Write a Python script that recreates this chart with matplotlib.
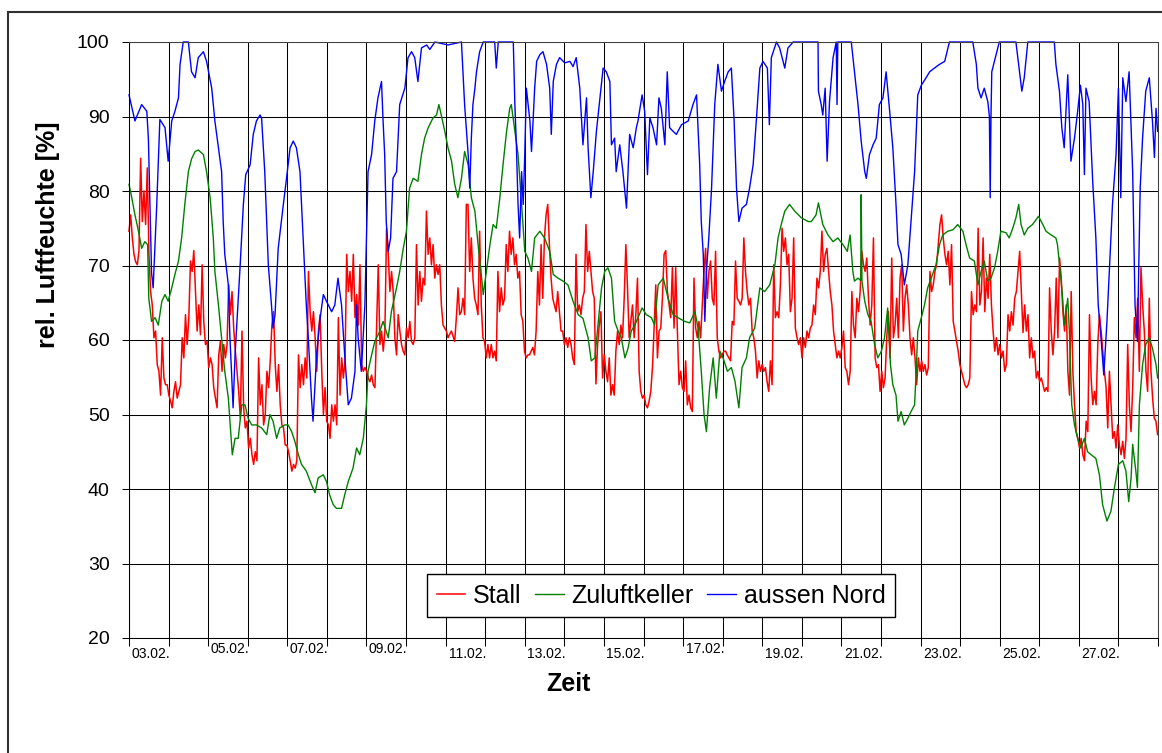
import numpy as np
import matplotlib.pyplot as plt
from matplotlib.patches import Rectangle

plt.rcParams['font.family'] = ['Liberation Sans', 'DejaVu Sans']

# Zeit in Tagen ab 03.02. 00:00
t_nord = [0.00, 0.15, 0.32, 0.45, 0.49, 0.57, 0.61, 0.70, 0.78, 0.91, 0.99, 1.08, 1.16, 1.25, 1.29, 1.37,
          1.50, 1.58, 1.67, 1.75, 1.88, 1.96, 2.09, 2.17, 2.26, 2.34, 2.38, 2.42, 2.51, 2.55, 2.59, 2.63,
          2.68, 2.80, 2.89, 2.95, 3.06, 3.14, 3.22, 3.31, 3.35, 3.43, 3.52, 3.60, 3.64, 3.69, 3.77, 3.90,
          3.98, 4.07, 4.15, 4.23, 4.32, 4.36, 4.40, 4.48, 4.53, 4.61, 4.65, 4.74, 4.82, 4.91, 4.99, 5.12,
          5.20, 5.28, 5.37, 5.45, 5.54, 5.62, 5.71, 5.75, 5.79, 5.87, 5.96, 6.00, 6.04, 6.13, 6.21, 6.29,
          6.38, 6.42, 6.46, 6.50, 6.55, 6.61, 6.67, 6.76, 6.84, 6.97, 7.05, 7.14, 7.22, 7.30, 7.39, 7.52,
          7.60, 7.73, 8.06, 8.40, 8.48, 8.57, 8.61, 8.65, 8.69, 8.74, 8.78, 8.86, 8.95, 9.24, 9.28, 9.33,
          9.71, 9.75, 9.79, 9.83, 9.87, 9.92, 9.96, 10.00, 10.04, 10.13, 10.17, 10.21, 10.25, 10.30, 10.38,
          10.46, 10.55, 10.63, 10.67, 10.72, 10.80, 10.88, 11.01, 11.14, 11.22, 11.30, 11.39, 11.47, 11.56,
          11.60, 11.67, 11.73, 11.81, 11.89, 11.98, 12.06, 12.15, 12.19, 12.27, 12.31, 12.40, 12.48, 12.57,
          12.65, 12.74, 12.82, 12.86, 12.965, 13.03, 13.10, 13.16, 13.24, 13.33, 13.39, 13.45, 13.54, 13.60,
          13.66, 13.75, 13.83, 13.96, 14.13, 14.25, 14.34, 14.42, 14.46, 14.51, 14.55, 14.59, 14.65, 14.72,
          14.80, 14.88, 14.97, 15.05, 15.14, 15.22, 15.29, 15.35, 15.41, 15.49, 15.60, 15.68, 15.77, 15.85,
          15.94, 16.02, 16.13, 16.18, 16.23, 16.36, 16.44, 16.57, 16.65, 16.78, 17.07, 17.41, 17.42, 17.49,
          17.53, 17.59, 17.64, 17.70, 17.79, 17.87, 17.89, 17.91, 18.25, 18.33, 18.42, 18.50, 18.59, 18.63,
          18.71, 18.80, 18.88, 18.96, 19.05, 19.13, 19.22, 19.30, 19.38, 19.43, 19.51, 19.59, 19.68, 19.76,
          19.85, 19.93, 20.02, 20.14, 20.23, 20.35, 20.48, 20.61, 20.73, 21.32, 21.41, 21.45, 21.53, 21.61,
          21.70, 21.74, 21.76, 21.78, 21.80, 21.91, 21.99, 22.41, 22.50, 22.56, 22.62, 22.71, 23.38, 23.42,
          23.51, 23.57, 23.63, 23.72, 23.80, 23.89, 23.97, 24.04, 24.10, 24.14, 24.18, 24.26, 24.35, 24.43,
          24.49, 24.56, 24.63, 24.71, 24.77, 24.85, 24.94, 25.00, 25.06, 25.11, 25.19, 25.27, 25.36, 25.42,
          25.48, 25.55, 25.61, 25.69, 25.78, 25.86, 25.91, 25.95, 25.99]
nord = [92.9, 89.4, 91.6, 90.7, 87.0, 69.0, 67.0, 78.0, 89.6, 88.5, 84.0, 89.4, 90.7, 92.5, 97.0, 100,
        100, 96.0, 95.2, 97.9, 98.7, 97.4, 93.8, 89.4, 85.8, 82.6, 75.9, 71.5, 67.4, 60.3, 55.8, 50.9,
        58.0, 69.2, 78.2, 82.2, 83.5, 87.6, 89.4, 90.2, 89.8, 82.6, 70.1, 64.7, 61.6, 63.4, 72.3, 78.2,
        81.7, 85.8, 86.7, 85.8, 82.6, 78.2, 73.7, 64.7, 60.3, 52.2, 49.1, 58.0, 62.5, 66.1, 65.2, 63.8,
        64.7, 68.3, 64.7, 58.0, 51.3, 52.2, 55.8, 64.7, 60.3, 55.8, 64.7, 73.7, 82.6, 84.9, 89.4, 92.5,
        94.7, 89.4, 84.9, 75.9, 71.9, 73.7, 81.7, 82.6, 91.6, 93.8, 97.9, 98.7, 97.9, 94.7, 99.2, 99.6,
        99.0, 100, 99.6, 100, 91.6, 84.9, 80.4, 87.1, 91.6, 93.8, 96.0, 98.7, 100, 100, 96.5, 100,
        100, 91.6, 85.8, 78.2, 73.7, 82.6, 78.2, 84.9, 93.8, 89.4, 85.3, 89.4, 93.8, 97.4, 98.3,
        98.7, 97.0, 93.8, 87.6, 94.7, 97.0, 97.9, 97.2, 97.4, 96.7, 97.9, 93.8, 86.2, 92.5,
        85.8, 79.1, 82.6, 88.0, 92.0, 96.5, 96.0, 94.7, 86.2, 87.1, 82.6, 86.2, 82.6, 77.7,
        87.6, 85.8, 88.5, 89.4, 92.9, 90.7, 82.2, 89.8, 88.5, 86.2, 92.5, 91.1, 86.2, 96.0,
        88.5, 88.0, 87.6, 88.9, 89.4, 91.6, 92.9, 83.5, 75.9, 71.5, 62.5, 69.2, 73.7, 80.4,
        91.6, 97.0, 93.4, 94.7, 96.0, 96.5, 89.4, 80.4, 75.9, 77.7, 78.2, 80.4, 83.5, 89.4,
        96.5, 97.4, 96.5, 88.9, 97.9, 100, 99.2, 96.5, 99.2, 100, 100, 100, 93.4, 91.6,
        90.2, 93.8, 84.0, 92.0, 97.9, 100, 91.6, 100, 100, 96.0, 91.6, 86.7, 82.6, 81.7,
        84.9, 86.2, 87.1, 91.6, 92.5, 96.0, 90.7, 85.8, 78.2, 72.8, 71.5, 67.4, 70.1, 75.9,
        82.6, 92.9, 94.2, 95.2, 96.0, 96.5, 97.0, 97.4, 100, 100, 97.0, 93.8, 92.5, 93.8,
        92.0, 90.0, 79.1, 90.0, 96.0, 98.3, 100, 100, 96.0, 93.4, 95.2, 100, 100, 97.0,
        93.4, 88.5, 85.8, 95.6, 84.0, 87.1, 90.7, 94.2, 91.6, 82.2, 93.8, 92.0, 81.3, 73.7,
        64.7, 60.3, 55.3, 62.5, 69.2, 78.2, 84.9, 93.8, 79.1, 95.2, 92.0, 96.0, 82.6, 64.7,
        59.8, 80.4, 87.1, 93.4, 95.2, 89.4, 84.5, 91.1, 88.0]

t_zuluft = [0.00, 0.07, 0.15, 0.24, 0.32, 0.40, 0.47, 0.50, 0.57, 0.66, 0.74, 0.83, 0.91, 0.99, 1.08, 1.16,
            1.25, 1.33, 1.41, 1.50, 1.58, 1.67, 1.75, 1.88, 1.96, 2.05, 2.13, 2.17, 2.26, 2.34, 2.42, 2.51,
            2.55, 2.61, 2.68, 2.76, 2.85, 2.93, 3.01, 3.10, 3.22, 3.35, 3.48, 3.56, 3.64, 3.73, 3.81, 3.94,
            4.02, 4.11, 4.19, 4.28, 4.36, 4.48, 4.61, 4.70, 4.78, 4.91, 4.99, 5.07, 5.16, 5.24, 5.37, 5.45,
            5.54, 5.66, 5.75, 5.83, 5.92, 5.96, 6.00, 6.04, 6.13, 6.21, 6.34, 6.42, 6.55, 6.63, 6.76, 6.84,
            6.93, 7.01, 7.09, 7.18, 7.30, 7.39, 7.47, 7.56, 7.68, 7.77, 7.83, 7.89, 7.98, 8.06, 8.15, 8.23,
            8.31, 8.40, 8.48, 8.57, 8.65, 8.74, 8.82, 8.91, 8.95, 9.03, 9.12, 9.20, 9.28, 9.37, 9.45, 9.54,
            9.62, 9.66, 9.75, 9.83, 9.92, 10.00, 10.08, 10.17, 10.25, 10.38, 10.50, 10.63, 10.72, 10.84,
            10.97, 11.09, 11.22, 11.35, 11.47, 11.60, 11.68, 11.77, 11.85, 11.94, 12.02, 12.10, 12.19, 12.27,
            12.36, 12.44, 12.53, 12.61, 12.69, 12.78, 12.86, 12.965, 13.07, 13.20, 13.28, 13.37, 13.50, 13.62,
            13.75, 13.87, 14.04, 14.17, 14.30, 14.38, 14.46, 14.53, 14.59, 14.67, 14.76, 14.84, 14.93, 15.01,
            15.12, 15.22, 15.31, 15.41, 15.49, 15.60, 15.68, 15.81, 15.94, 16.06, 16.19, 16.32, 16.40, 16.48,
            16.57, 16.69, 16.82, 16.99, 17.16, 17.24, 17.36, 17.42, 17.53, 17.66, 17.79, 17.91, 18.04, 18.15,
            18.22, 18.29, 18.33, 18.42, 18.49, 18.50, 18.52, 18.59, 18.67, 18.75, 18.84, 18.92, 19.01, 19.09,
            19.17, 19.24, 19.30, 19.38, 19.43, 19.51, 19.59, 19.68, 19.76, 19.85, 19.89, 19.93, 20.02, 20.10,
            20.18, 20.27, 20.39, 20.48, 20.56, 20.69, 20.82, 20.94, 21.07, 21.15, 21.24, 21.36, 21.45, 21.53,
            21.61, 21.70, 21.78, 21.87, 21.95, 22.03, 22.16, 22.24, 22.33, 22.41, 22.48, 22.54, 22.62, 22.71,
            22.83, 22.98, 23.09, 23.17, 23.30, 23.42, 23.46, 23.53, 23.59, 23.63, 23.72, 23.76, 23.82, 23.89,
            23.97, 24.05, 24.14, 24.22, 24.31, 24.43, 24.52, 24.60, 24.71, 24.81, 24.90, 25.00, 25.11, 25.19,
            25.26, 25.32, 25.36, 25.44, 25.48, 25.53, 25.61, 25.69, 25.78, 25.86, 25.95, 25.99]
zuluft = [80.9, 79.1, 76.8, 74.6, 72.3, 73.2, 72.8, 65.6, 62.5, 63.0, 62.0, 65.2, 66.1, 65.2, 67.0, 68.8,
          70.6, 73.7, 78.2, 82.6, 84.3, 85.3, 85.5, 84.9, 82.6, 79.1, 73.7, 69.2, 64.7, 60.3, 55.8, 52.2,
          49.1, 44.6, 46.8, 46.8, 51.3, 51.3, 49.5, 48.6, 48.6, 48.2, 47.3, 50.0, 49.1, 46.8, 48.2, 48.6,
          48.6, 47.7, 46.4, 44.6, 43.3, 42.4, 40.6, 39.5, 41.5, 41.9, 41.0, 39.2, 37.9, 37.4, 37.4, 39.2,
          41.0, 42.8, 45.5, 44.6, 46.8, 49.1, 51.3, 55.8, 58.0, 59.8, 61.2, 62.5, 60.3, 63.8, 67.0, 69.2,
          72.3, 74.6, 80.4, 81.7, 81.3, 84.9, 87.1, 88.5, 89.8, 90.2, 91.6, 90.2, 88.0, 85.8, 84.0, 80.9,
          79.1, 81.7, 85.3, 83.5, 79.1, 77.3, 72.8, 68.3, 66.1, 69.2, 72.8, 75.5, 75.0, 79.1, 83.5, 88.0,
          91.1, 91.6, 88.0, 84.9, 78.2, 71.9, 71.0, 69.2, 73.7, 74.6, 73.7, 71.9, 68.8, 68.3,
          67.9, 67.4, 65.2, 63.4, 62.9, 60.3, 57.2, 57.6, 62.0, 67.0, 69.2, 69.7, 68.3, 62.5,
          61.2, 60.3, 57.6, 58.9, 61.2, 62.0, 63.0, 64.3, 63.4, 63.0, 62.0, 67.4, 68.3, 65.6,
          63.4, 63.0, 62.5, 62.3, 63.8, 61.6, 55.8, 50.0, 47.7, 53.6, 57.6, 52.2, 58.5, 57.6,
          55.8, 56.3, 54.5, 50.9, 56.3, 57.6, 60.3, 61.6, 67.0, 66.5, 67.4, 70.1, 73.7, 75.5,
          77.3, 78.2, 77.3, 76.4, 75.9, 75.9, 76.8, 78.4, 75.5, 74.1, 73.2, 73.7, 72.8, 71.9,
          74.1, 69.2, 67.9, 68.3, 68.0, 79.5, 67.9, 65.2, 63.4, 62.5, 59.4, 57.6, 58.5, 60.3,
          64.3, 56.7, 54.0, 52.6, 49.1, 50.4, 48.6, 49.5, 50.4, 51.3, 55.8, 61.2, 63.0, 64.7,
          67.0, 68.3, 70.1, 72.8, 74.1, 74.6, 74.8, 75.5, 74.6, 72.8, 71.0, 70.6, 67.4, 69.2,
          70.6, 67.9, 68.3, 69.7, 71.9, 74.6, 74.4, 73.7, 75.0, 76.4, 78.2, 75.5, 74.1, 75.0,
          75.5, 76.6, 75.5, 74.6, 74.1, 73.7, 72.8, 69.2, 65.6, 62.0, 65.6, 61.2, 51.3, 48.6,
          46.8, 45.5, 46.8, 45.0, 44.6, 44.1, 41.9, 37.9, 35.7, 37.0, 40.2, 43.3, 43.8, 42.4,
          38.3, 41.5, 46.0, 42.4, 40.2, 51.3, 56.7, 59.4, 60.3, 58.9, 56.7, 54.9]

# Stall: etwa stuendliche Werte
stall = [74.6, 76.8, 73.7, 71.5, 70.5, 70.1, 72.0, 84.4, 75.9, 80.0, 75.5, 83.1, 71.5, 66.5, 64.7, 60.3,
         61.2, 56.7, 55.8, 52.6, 60.3, 54.9, 54.0, 54.0, 52.6, 51.8, 50.9, 53.1, 54.4, 52.2, 53.1, 54.0,
         60.3, 57.6, 63.4, 59.4, 63.0, 70.6, 69.2, 72.0, 66.5, 61.2, 64.7, 60.7, 70.1, 62.5, 59.4, 59.8,
         56.3, 57.6, 56.7, 53.6, 52.2, 50.9, 58.0, 59.8, 55.8, 59.4, 57.6, 59.4, 67.4, 63.4, 66.5, 61.6,
         58.5, 55.8, 53.1, 49.5, 61.2, 50.9, 48.2, 49.1, 45.5, 46.8, 44.6, 43.3, 45.0, 43.8, 57.6, 51.3,
         54.0, 48.6, 50.0, 55.8, 53.6, 57.2, 62.0, 63.8, 56.7, 53.1, 56.7, 51.3, 48.6, 48.2, 45.9, 45.9,
         45.0, 43.8, 42.4, 43.3, 42.8, 43.8, 58.0,
         53.6, 56.7, 54.0, 57.6, 54.9, 69.2, 63.8, 61.2, 63.8, 60.3, 55.8, 61.2, 63.4, 55.8, 50.0, 53.6,
         49.1, 48.6, 46.8, 51.3, 49.1, 51.3, 48.6, 63.0, 52.6, 57.6, 54.9, 57.2, 71.5, 66.5, 69.2, 65.2,
         71.5, 63.0, 66.1, 62.0, 70.1, 56.7, 55.8, 56.3, 55.8, 54.9, 54.4, 55.3, 54.0, 53.6, 62.0, 70.1,
         59.4, 61.2, 58.5, 61.2, 75.0, 71.5, 66.5, 69.2, 66.5, 60.3, 58.0, 63.4, 61.2, 59.4, 58.5, 58.0,
         61.6, 60.3, 62.5, 59.8, 59.4, 60.3, 72.8, 64.7, 69.2, 65.2, 68.3, 67.4, 77.3, 71.5, 73.7, 70.1,
         72.8, 68.3, 70.1, 68.8, 70.1, 64.7, 62.0, 61.6, 61.2, 60.3, 60.8, 61.2, 60.5, 59.8, 63.0, 67.0,
         63.4, 63.8, 65.6, 63.4, 78.2,
         78.2, 69.2, 73.7, 68.3, 65.6, 64.7, 63.4, 74.6, 64.7, 60.3, 59.8, 57.6, 59.4, 57.6, 59.4, 57.6,
         58.5, 57.2, 69.2, 63.8, 67.0, 64.7, 65.6, 72.8, 69.2, 74.6, 71.5, 73.7, 70.1, 71.5, 68.3, 69.2,
         63.4, 62.5, 58.5, 57.6, 58.0, 58.0, 58.5, 59.0, 58.0, 61.2, 69.2, 64.7, 72.8, 65.6, 73.7, 76.8,
         78.2, 72.8, 68.3, 65.6, 64.7, 63.8, 66.5, 63.8, 61.2, 61.2, 59.4, 60.3, 59.0, 60.3, 59.4, 57.6,
         56.7, 71.5, 63.8, 64.7, 63.4, 65.6, 66.5, 75.5, 69.2, 71.9, 69.2, 66.5, 65.6, 54.1, 59.4, 62.0,
         63.8, 54.9, 58.0, 55.8, 54.4, 57.6, 52.6, 54.0, 52.6, 58.5, 61.2, 59.4, 62.0, 60.3, 65.6, 72.8,
         67.0, 60.3, 62.5, 64.7, 60.3, 63.4, 68.3, 55.8, 53.1,
         52.2, 52.6, 51.3, 50.9, 51.8, 53.1, 56.3, 61.6, 67.4, 57.6, 61.2, 61.6, 65.6, 71.5, 72.0, 66.5,
         64.7, 63.0, 69.7, 61.6, 69.7, 61.2, 54.0, 55.8, 53.6, 53.1, 57.2, 51.3, 52.6, 50.9, 50.4, 68.3,
         61.6, 60.3, 62.5, 60.3, 64.7, 69.2, 72.3, 65.6, 69.2, 70.6, 65.6, 64.7, 71.9, 60.3, 58.5, 57.6,
         58.0, 58.5, 58.5, 58.0, 57.6, 57.2, 62.5, 62.0, 70.6, 65.6, 65.2, 64.7, 65.6, 73.7, 69.2, 66.5,
         64.7, 65.6, 61.2, 60.3, 58.5, 54.9, 57.2, 55.8, 56.7, 55.8, 56.3, 54.4, 53.1, 57.2, 54.0, 70.1,
         63.0, 63.8, 63.0, 67.4, 75.0, 71.9, 73.7, 70.1, 71.5, 63.8, 65.6, 73.7, 61.6, 60.3, 59.4, 60.3,
         57.6, 60.3, 59.0, 61.2, 60.3, 61.6,
         62.0, 64.7, 63.4, 68.3, 67.0, 69.2, 74.6, 69.2, 71.5, 72.3, 69.2, 66.5, 64.7, 61.2, 59.4, 57.6,
         58.5, 57.6, 59.0, 61.2, 56.3, 55.8, 54.0, 55.8, 66.5, 62.0, 60.3, 65.6, 63.8, 66.5, 71.9, 70.1,
         69.2, 71.0, 65.6, 62.0, 64.7, 73.7, 57.6, 56.3, 56.7, 53.1, 55.8, 53.6, 54.9, 60.3, 63.8, 57.6,
         71.0, 60.3, 62.0, 65.6, 60.3, 68.3, 70.1, 61.2, 65.6, 67.4, 64.7, 60.3, 58.0, 60.3, 57.6, 54.0,
         57.6, 55.8, 57.2, 55.8, 56.7, 55.3, 56.3, 69.2, 66.5, 67.4, 69.2, 70.1, 72.8, 75.5, 76.8, 73.7,
         71.5, 70.1, 71.9, 67.4, 72.8, 62.5, 61.2, 59.8, 58.5, 56.7, 55.8, 54.9, 54.0, 53.6, 54.0, 54.9,
         66.5, 63.4, 64.7, 63.8, 75.0, 64.7,
         66.5, 73.7, 63.8, 68.3, 65.6, 71.5, 64.7, 61.2, 58.5, 60.3, 58.0, 59.4, 57.6, 58.5, 55.8, 56.7,
         63.4, 61.2, 63.8, 62.0, 65.6, 66.5, 69.2, 71.9, 66.5, 61.0, 64.7, 61.2, 63.4, 57.6, 60.3, 57.6,
         58.5, 54.9, 55.8, 54.4, 54.9, 54.0, 53.1, 53.6, 53.1, 67.0, 61.2, 58.0, 61.2, 68.3, 60.3, 71.0,
         68.3, 63.8, 61.2, 64.7, 55.8, 52.6, 66.5, 55.8, 51.3, 47.7, 46.8, 45.5, 46.8, 44.6, 43.8, 49.1,
         47.7, 63.4, 54.9, 51.3, 53.1, 51.3, 59.4, 63.4, 61.2, 58.5, 55.8, 53.6, 48.2, 55.8, 51.3, 46.8,
         47.7, 45.5, 48.6, 45.9, 44.6, 46.4, 44.1, 46.8, 59.4, 51.3, 47.7, 53.6, 63.0, 60.3, 65.6, 55.8,
         69.7, 64.7, 61.2, 55.8, 53.1, 65.6, 55.8, 52.2, 49.5, 49.1, 47.3]
t_stall = np.linspace(0, 25.99, len(stall))

datum = ['03.02.', '05.02.', '07.02.', '09.02.', '11.02.', '13.02.', '15.02.',
         '17.02.', '19.02.', '21.02.', '23.02.', '25.02.', '27.02.']
datum_tag = [0, 2, 4, 6, 8, 10, 12, 14, 16, 18, 20, 22, 24]
datum_hoch = [False, True, True, True, False, False, False, True, False, False, False, False, False]

W, H = 1162, 753
fig = plt.figure(figsize=(W / 100, H / 100), dpi=100)
ax = fig.add_axes([129 / W, 1 - 638 / H, 1029 / W, 596 / H])

ax.plot(t_stall, stall, color='#ff0000', lw=1.1, label='Stall', clip_on=False)
ax.plot(t_zuluft, zuluft, color='#008000', lw=1.0, label='Zuluftkeller', clip_on=False)
ax.plot(t_nord, nord, color='#0000ff', lw=1.0, label='aussen Nord', clip_on=False)

ax.set_xlim(0, 26)
ax.set_ylim(20, 100)
ax.set_yticks(range(20, 101, 10))
ax.set_xticks(range(0, 27))
ax.set_xticklabels([])
ax.grid(True, color='black', lw=0.75)
ax.set_axisbelow(True)
ax.tick_params(axis='x', length=6, width=0.75, direction='out')
ax.tick_params(axis='y', length=5, width=0.75, labelsize=14, pad=9)
for s in ax.spines.values():
    s.set_linewidth(0.75)
    s.set_color('#404040')
ax.spines['left'].set_color('black')
ax.spines['bottom'].set_color('black')

for d, lab, hoch in zip(datum_tag, datum, datum_hoch):
    ax.annotate(lab, xy=(d + 0.55, 0), xycoords=('data', 'axes fraction'),
                xytext=(0, -2.9 if hoch else -6.5), textcoords='offset points',
                ha='center', va='top', fontsize=10)

leg = ax.legend(loc='center', bbox_to_anchor=(0.517, 0.0705), ncol=3, fontsize=18,
                frameon=True, fancybox=False, edgecolor='black', framealpha=1,
                handlelength=1.15, handletextpad=0.3, columnspacing=0.55, borderpad=0.38)
leg.get_frame().set_linewidth(1.0)

fig.text(568 / W, 1 - 684 / H, 'Zeit', fontsize=18, fontweight='bold', ha='center', va='center')
fig.text(48 / W, 1 - 235 / H, 'rel. Luftfeuchte [%]', rotation=90, fontsize=18,
         fontweight='bold', ha='center', va='center')

fig.add_artist(Rectangle((8 / W, -0.1), 1.2, 1.1 - 12 / H, transform=fig.transFigure,
                         fill=False, edgecolor='#303030', lw=1.5))

fig.savefig('out.png', dpi=100)
